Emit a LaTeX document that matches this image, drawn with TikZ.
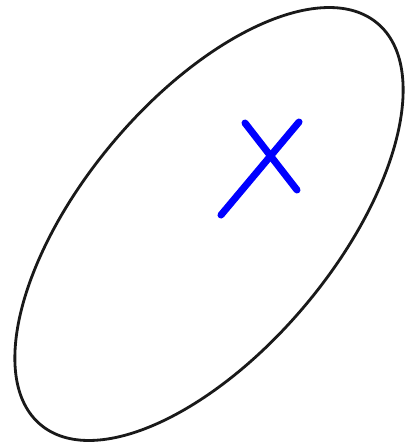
\documentclass[tikz,border=0pt]{standalone}
\begin{document}
\begin{tikzpicture}[x=0.025cm,y=-0.025cm,
  outline/.style={draw=black!90,line width=2pt},
  cross/.style={draw=blue,line width=5pt,line cap=round}]
\useasboundingbox (0,0) rectangle (406,448);
\coordinate (mid) at (209,224);
\draw[outline] (mid) ellipse[x radius=262,y radius=126,rotate=50];
\coordinate (xa) at (221,215);
\coordinate (xb) at (299,122);
\coordinate (xc) at (245,123);
\coordinate (xd) at (297,190);
\draw[cross] (xa) -- (xb);
\draw[cross] (xc) -- (xd);
\end{tikzpicture}
\end{document}
